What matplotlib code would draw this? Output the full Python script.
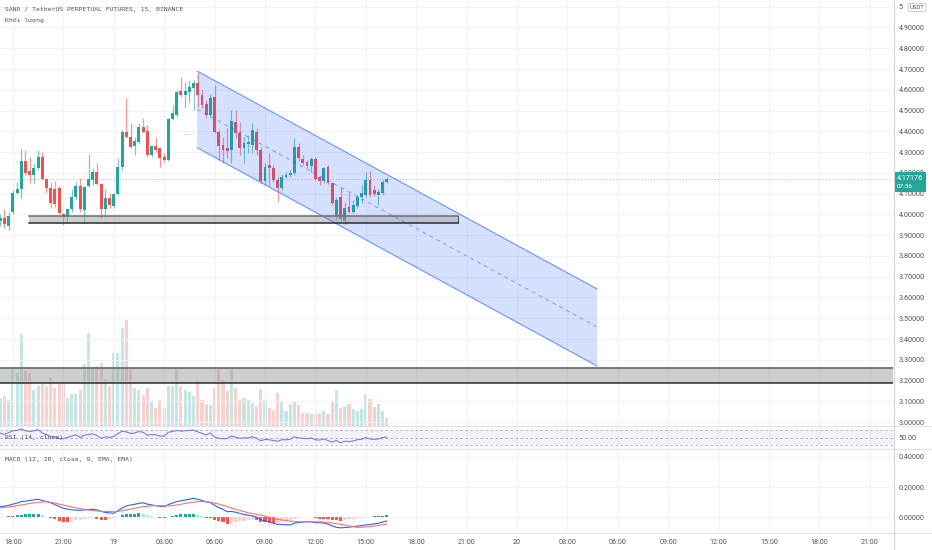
import numpy as np
import pandas as pd
import matplotlib
matplotlib.use('Agg')
import matplotlib.pyplot as plt
import matplotlib.dates as mdates
import matplotlib.transforms as mtrans
from matplotlib.patches import Rectangle, Polygon
from matplotlib.lines import Line2D

# ---------------- data ----------------
start_time = '2021-11-18 17:15'
opens = [3.968, 3.983, 3.944, 4.012, 4.103, 4.120, 4.257, 4.209, 4.190, 4.222,
         4.275, 4.169, 4.126, 4.122, 4.127, 4.002, 3.986, 4.026, 4.085, 4.137,
         4.021, 4.137, 4.166, 4.206, 4.145, 4.026, 4.078, 4.040, 4.097, 4.227,
         4.398, 4.374, 4.329, 4.350, 4.422, 4.402, 4.286, 4.329, 4.318, 4.278,
         4.262, 4.458, 4.479, 4.596, 4.575, 4.591, 4.607, 4.634, 4.575, 4.530,
         4.479, 4.564, 4.398, 4.334, 4.318, 4.310, 4.445, 4.393, 4.318, 4.339,
         4.334, 4.397, 4.310, 4.161, 4.238, 4.222, 4.166, 4.126, 4.182, 4.190,
         4.198, 4.326, 4.265, 4.252, 4.235, 4.269, 4.180, 4.161, 4.226, 4.151,
         3.992, 4.084, 3.968, 4.036, 4.013, 4.040, 4.084, 4.093, 4.166, 4.117,
         4.093, 4.103, 4.157]
highs = [4.002, 4.026, 4.012, 4.117, 4.156, 4.315, 4.310, 4.276, 4.247, 4.310,
         4.300, 4.175, 4.156, 4.161, 4.137, 4.008, 4.026, 4.122, 4.156, 4.175,
         4.137, 4.291, 4.223, 4.249, 4.151, 4.121, 4.102, 4.103, 4.270, 4.406,
         4.559, 4.439, 4.374, 4.440, 4.463, 4.430, 4.334, 4.374, 4.320, 4.296,
         4.464, 4.527, 4.599, 4.660, 4.639, 4.647, 4.647, 4.681, 4.599, 4.551,
         4.580, 4.623, 4.406, 4.374, 4.416, 4.503, 4.503, 4.445, 4.373, 4.382,
         4.440, 4.416, 4.325, 4.247, 4.296, 4.238, 4.180, 4.195, 4.204, 4.214,
         4.366, 4.344, 4.286, 4.262, 4.276, 4.278, 4.185, 4.230, 4.238, 4.156,
         4.085, 4.132, 4.060, 4.103, 4.069, 4.093, 4.142, 4.206, 4.210, 4.142,
         4.122, 4.166, 4.182]
lows = [3.944, 3.935, 3.925, 4.002, 4.098, 4.079, 4.190, 4.151, 4.151, 4.219,
        4.166, 4.103, 4.031, 4.036, 4.002, 3.949, 3.965, 4.012, 4.069, 4.013,
        3.959, 4.132, 4.142, 4.142, 3.983, 3.986, 4.029, 4.031, 4.093, 4.214,
        4.366, 4.318, 4.286, 4.344, 4.390, 4.278, 4.276, 4.302, 4.230, 4.252,
        4.257, 4.455, 4.469, 4.567, 4.512, 4.543, 4.503, 4.519, 4.512, 4.464,
        4.469, 4.392, 4.262, 4.247, 4.270, 4.246, 4.368, 4.286, 4.246, 4.296,
        4.296, 4.286, 4.151, 4.142, 4.137, 4.156, 4.061, 4.117, 4.175, 4.180,
        4.190, 4.257, 4.238, 4.223, 4.206, 4.166, 4.142, 4.151, 4.146, 4.045,
        3.973, 3.963, 3.954, 4.005, 4.007, 4.031, 4.055, 4.085, 4.085, 4.089,
        4.045, 4.093, 4.153]
closes = [3.983, 3.954, 3.992, 4.103, 4.120, 4.257, 4.201, 4.188, 4.223, 4.275,
          4.169, 4.126, 4.053, 4.050, 4.005, 3.986, 4.026, 4.085, 4.137, 4.025,
          4.132, 4.169, 4.206, 4.145, 4.026, 4.078, 4.045, 4.097, 4.227, 4.398,
          4.374, 4.326, 4.355, 4.422, 4.398, 4.286, 4.329, 4.310, 4.270, 4.262,
          4.458, 4.487, 4.591, 4.575, 4.594, 4.612, 4.634, 4.575, 4.527, 4.479,
          4.562, 4.398, 4.331, 4.310, 4.307, 4.450, 4.390, 4.321, 4.342, 4.350,
          4.406, 4.310, 4.161, 4.230, 4.222, 4.166, 4.126, 4.182, 4.190, 4.198,
          4.326, 4.270, 4.246, 4.235, 4.269, 4.172, 4.161, 4.222, 4.151, 4.055,
          4.069, 3.978, 4.033, 4.013, 4.045, 4.084, 4.101, 4.166, 4.093, 4.098,
          4.108, 4.157, 4.17176]
volumes = [283, 300, 257, 567, 533, 917, 550, 533, 357, 400,
           417, 400, 477, 377, 417, 450, 283, 317, 317, 357,
           617, 927, 583, 600, 633, 467, 400, 733, 733, 977,
           1060, 567, 377, 357, 310, 377, 243, 183, 260, 167,
           400, 400, 567, 400, 357, 343, 300, 457, 257, 217,
           210, 377, 567, 457, 350, 567, 383, 257, 283, 257,
           233, 200, 367, 260, 177, 157, 333, 243, 150, 217,
           250, 210, 133, 133, 123, 123, 133, 150, 117, 250,
           360, 177, 200, 217, 167, 150, 167, 323, 273, 190,
           217, 150, 83]
rsi = [62, 58, 63, 68, 69, 73, 68, 66, 68, 71,
       62, 58, 52, 52, 47, 47, 50, 54, 57, 50,
       56, 58, 60, 55, 48, 52, 50, 53, 60, 67,
       65, 61, 62, 66, 64, 56, 58, 57, 54, 53,
       64, 66, 69, 67, 68, 69, 70, 65, 61, 57,
       62, 51, 48, 47, 47, 54, 51, 48, 49, 49,
       52, 48, 41, 45, 44, 42, 40, 44, 44, 45,
       52, 49, 48, 47, 49, 44, 43, 46, 42, 38,
       42, 36, 40, 39, 41, 44, 45, 50, 46, 45,
       46, 50, 51]
macd = [.071, .075, .080, .088, .095, .104, .108, .112, .116, .120,
        .112, .105, .097, .085, .073, .061, .055, .050, .049, .047,
        .050, .053, .054, .050, .040, .034, .030, .028, .045, .062,
        .076, .082, .087, .093, .097, .088, .083, .078, .074, .071,
        .085, .095, .104, .110, .115, .120, .126, .120, .112, .104,
        .098, .080, .065, .054, .038, .040, .035, .027, .020, .015,
        .010, .002, -.015, -.022, -.027, -.038, -.045, -.046, -.048, -.049,
        -.038, -.033, -.030, -.028, -.028, -.034, -.035, -.036, -.044, -.055,
        -.065, -.068, -.066, -.064, -.060, -.057, -.053, -.049, -.046, -.042,
        -.038, -.030, -.023]
signal = [.064, .067, .070, .073, .078, .082, .087, .092, .096, .100,
          .102, .104, .100, .095, .088, .082, .076, .070, .064, .058,
          .054, .049, .046, .043, .041, .040, .039, .038, .040, .045,
          .050, .055, .061, .066, .071, .074, .077, .078, .078, .077,
          .076, .078, .082, .087, .092, .097, .101, .104, .105, .104,
          .100, .095, .088, .080, .072, .063, .055, .047, .039, .031,
          .025, .020, .016, .009, .002, -.005, -.012, -.016, -.020, -.024,
          -.027, -.028, -.028, -.028, -.028, -.028, -.028, -.030, -.033, -.037,
          -.041, -.045, -.050, -.055, -.060, -.065, -.064, -.062, -.060, -.056,
          -.052, -.048, -.043]
hist = [.004, .005, .008, .012, .016, .019, .021, .023, .025, .026,
        .014, .003, -.006, -.013, -.020, -.028, -.030, -.025, -.018, -.014,
        -.008, -.005, -.004, -.010, -.014, -.016, -.012, -.004, .006, .014,
        .020, .024, .026, .027, .024, .016, .010, .004, -.004, -.006,
        .004, .012, .018, .021, .022, .023, .024, .016, .007, -.002,
        -.004, -.015, -.024, -.030, -.040, -.034, -.028, -.024, -.020, -.017,
        -.015, -.018, -.030, -.032, -.033, -.034, -.033, -.030, -.026, -.022,
        -.011, -.005, .001, .002, .003, -.006, -.008, -.009, -.012, -.016,
        -.019, -.020, -.016, -.012, -.008, -.004, -.001, .004, .006, .008,
        .010, .012, .014]

last_price = 4.17176
countdown = '07:36'
price_ticks = [3.0, 3.1, 3.2, 3.3, 3.4, 3.5, 3.6, 3.7, 3.8, 3.9, 4.0,
               4.1, 4.2, 4.3, 4.4, 4.5, 4.6, 4.7, 4.8, 4.9, 5.0]
macd_ticks = [0.0, 0.2, 0.4]

channel_times = ['2021-11-19 04:58', '2021-11-20 04:46']
channel_upper = [4.690, 3.641]
channel_mid = [4.506, 3.458]
channel_lower = [4.321, 3.270]
zone1_times = ['2021-11-18 18:57', '2021-11-19 20:30']
zone1_prices = [3.959, 3.992]
zone2_prices = [3.187, 3.262]
dots_times = ['2021-11-19 04:07', '2021-11-19 04:39']
dots_price = 4.387

title_text = 'SAND / TetherUS PERPETUAL FUTURES, 15, BINANCE'
vol_text = 'Khối lượng'
rsi_text = 'RSI (14, close)'
macd_text = 'MACD (12, 26, close, 9, EMA, EMA)'

# ---------------- styling ----------------
TEAL = '#26a69a'
RED = '#ef5350'
GRID = '#f0f3fa'
SEP = '#e0e3eb'
TXT = '#50535e'
LBL_FONT = ['Roboto', 'DejaVu Sans']
MONO = ['DejaVu Sans Mono', 'DejaVu Sans']

W, H = 932, 550
PW = 893
fig = plt.figure(figsize=(W / 100, H / 100), dpi=100, facecolor='white')


def box(x0, y0, x1, y1):
    return [x0 / W, 1 - y1 / H, (x1 - x0) / W, (y1 - y0) / H]


ax_vol = fig.add_axes(box(0, 0, PW, 426))
ax = fig.add_axes(box(0, 0, PW, 426))
ax_rsi = fig.add_axes(box(0, 426, PW, 449))
ax_macd = fig.add_axes(box(0, 449, PW, 533))
ax_vol.set_zorder(0)
ax.set_zorder(1)
ax.patch.set_alpha(0)

o = np.array(opens); h = np.array(highs); l = np.array(lows); c = np.array(closes)
times = pd.date_range(start_time, periods=len(c), freq='15min')
x = mdates.date2num(times.to_pydatetime())
step = 15 / 1440.0
t0 = pd.Timestamp(start_time)
xl = (mdates.date2num((t0 - pd.Timedelta(minutes=1)).to_pydatetime()),
      mdates.date2num((t0 + pd.Timedelta(minutes=15 * 212.5)).to_pydatetime()))

up = c >= o
col = np.where(up, TEAL, RED)

# volume
ax_vol.bar(x, volumes, width=step * 0.75, color=col, alpha=0.27, linewidth=0)
ax_vol.set_ylim(0, 4260)
ax_vol.set_xlim(*xl)
ax_vol.axis('off')

# candles
ax.vlines(x, l, h, colors=col, lw=0.9, alpha=0.6, zorder=2)
ax.bar(x, np.maximum(np.abs(c - o), 0.004), bottom=np.minimum(o, c),
       width=step * 0.68, color=col, linewidth=0, zorder=3)

# channel
ct = mdates.date2num(pd.to_datetime(channel_times).to_pydatetime())
ax.add_patch(Polygon([(ct[0], channel_upper[0]), (ct[1], channel_upper[1]),
                      (ct[1], channel_lower[1]), (ct[0], channel_lower[0])],
                     closed=True, facecolor=(41 / 255, 98 / 255, 1.0, 0.19),
                     edgecolor='none', zorder=4))
ax.plot(ct, channel_upper, color='#2962ff', lw=0.8, alpha=0.65, zorder=5)
ax.plot(ct, channel_lower, color='#2962ff', lw=0.8, alpha=0.65, zorder=5)
ax.plot(ct, channel_mid, color='#2962ff', lw=0.7, alpha=0.55, ls=(0, (4, 4)), zorder=5)

dt = mdates.date2num(pd.to_datetime(dots_times).to_pydatetime())
ax.plot(dt, [dots_price] * 2, color='#5b8def', lw=0.7, alpha=0.5, ls=(0, (2, 2)), zorder=5)

# zone 1
zt = mdates.date2num(pd.to_datetime(zone1_times).to_pydatetime())
ax.add_patch(Rectangle((zt[0], zone1_prices[0]), zt[1] - zt[0],
                       zone1_prices[1] - zone1_prices[0],
                       facecolor='#9e9e9e', alpha=0.5, edgecolor='none', zorder=4))
ax.plot(zt, [zone1_prices[1]] * 2, color='#6f6f6f', lw=1.1, zorder=5)
ax.plot(zt, [zone1_prices[0]] * 2, color='#2e2e2e', lw=1.1, zorder=5)
ax.plot([zt[1], zt[1]], zone1_prices, color='#2e2e2e', lw=0.6, zorder=5)

# zone 2 (full width)
ax.axhspan(zone2_prices[0], zone2_prices[1], facecolor='#9e9e9e', alpha=0.5,
           edgecolor='none', zorder=4)
ax.axhline(zone2_prices[1], color='#6f6f6f', lw=1.3, zorder=5)
ax.axhline(zone2_prices[0], color='#2e2e2e', lw=1.1, zorder=5)

# last price line
ax.axhline(last_price, color=TEAL, lw=0.7, alpha=0.55, ls=(0, (1, 2)), zorder=5)

ax.set_xlim(*xl)
ax.set_ylim(2.9812, 5.0323)
ax.set_yticks(price_ticks)
ax.set_yticklabels(['%g' % v if v == int(v) and v == max(price_ticks) else '%.5f' % v
                    for v in price_ticks])
ax.yaxis.tick_right()

# RSI
ax_rsi.axhspan(30, 70, facecolor='#7e57c2', alpha=0.08, edgecolor='none')
for lv in (70, 50, 30):
    ax_rsi.axhline(lv, color='#9598a1', lw=0.6, ls=(0, (3, 3)), alpha=0.8)
ax_rsi.plot(x, rsi, color='#7b7fd6', lw=0.8)
ax_rsi.set_xlim(*xl)
ax_rsi.set_ylim(19.3, 80.7)
ax_rsi.set_yticks([50])
ax_rsi.set_yticklabels(['50.00'])
ax_rsi.yaxis.tick_right()

# MACD
hcol = []
for i, v in enumerate(hist):
    prev = hist[i - 1] if i > 0 else v
    if v >= 0:
        hcol.append('#26a69a' if v > prev else '#b2dfdb')
    else:
        hcol.append('#ff5252' if v < prev else '#ffcdd2')
ax_macd.bar(x, hist, width=step * 0.75, color=hcol, linewidth=0, zorder=2)
ax_macd.plot(x, macd, color='#2962ff', lw=0.8, zorder=3)
ax_macd.plot(x, signal, color='#f5776b', lw=0.8, zorder=3)
ax_macd.set_xlim(*xl)
ax_macd.set_ylim(-0.102, 0.4507)
ax_macd.set_yticks(macd_ticks)
ax_macd.set_yticklabels(['%.5f' % v for v in macd_ticks])
ax_macd.yaxis.tick_right()

# time ticks
tick_times = pd.date_range('2021-11-18 18:00', '2021-11-20 21:00', freq='3h')
tick_labels = [str(t.day) if t.hour == 0 else t.strftime('%H:%M') for t in tick_times]
tx = mdates.date2num(tick_times.to_pydatetime())

for a in (ax, ax_rsi, ax_macd):
    a.set_xticks(tx)
    a.grid(True, axis='x', color=GRID, lw=0.8)
    a.set_axisbelow(True)
    for s in a.spines.values():
        s.set_visible(False)
    a.tick_params(axis='y', length=0, pad=4, labelsize=5.2, labelcolor=TXT)
    for lab in a.get_yticklabels():
        lab.set_fontfamily(LBL_FONT)
ax.grid(True, axis='y', color=GRID, lw=0.8)
ax_macd.grid(True, axis='y', color=GRID, lw=0.8)
ax.tick_params(axis='x', length=0, labelbottom=False)
ax_rsi.tick_params(axis='x', length=0, labelbottom=False)
ax_macd.set_xticklabels(tick_labels)
ax_macd.tick_params(axis='x', length=0, pad=4, labelsize=5.2, labelcolor=TXT)
for lab in ax_macd.get_xticklabels():
    lab.set_fontfamily(LBL_FONT)

# separators
for yy in (426, 449, 533):
    fig.add_artist(Line2D([0, 1], [1 - yy / H] * 2, color=SEP, lw=0.8,
                          transform=fig.transFigure))
fig.add_artist(Line2D([(PW + 0.5) / W] * 2, [0, 1], color='#d1d4dc', lw=0.8,
                      transform=fig.transFigure))

# last price badge (centred on the price line, countdown below)
btr = mtrans.blended_transform_factory(fig.transFigure, ax.transData)
ax.add_patch(Rectangle(((PW + 1) / W, last_price - 0.062), 32 / W, 0.095,
                       transform=btr, facecolor=TEAL, edgecolor='none',
                       clip_on=False, zorder=10))
ax.text((PW + 4) / W, last_price + 0.001, '%.5f' % last_price, transform=btr,
        color='white', fontsize=5.2, va='center', ha='left', family=LBL_FONT,
        clip_on=False, zorder=11)
ax.text((PW + 4) / W, last_price - 0.038, countdown, transform=btr,
        color='white', fontsize=4.6, va='center', ha='left', family=LBL_FONT,
        clip_on=False, zorder=11)

# USDT badge
fig.text(917 / W, 1 - 7.5 / H, 'USDT', fontsize=4.3, color=TXT, ha='center',
         va='center', family=LBL_FONT,
         bbox=dict(boxstyle='round,pad=0.25', facecolor='white',
                   edgecolor='#b2b5be', lw=0.5))

# legends
fig.text(5 / W, 1 - 10 / H, title_text, fontsize=4.6, family=MONO, color=TXT, va='center')
fig.text(5 / W, 1 - 20 / H, vol_text, fontsize=4.6, family=MONO, color=TXT, va='center')
fig.text(5 / W, 1 - 437 / H, rsi_text, fontsize=4.6, family=MONO, color=TXT, va='center')
fig.text(5 / W, 1 - 459 / H, macd_text, fontsize=4.6, family=MONO, color=TXT, va='center')

fig.savefig('out.png', dpi=100, facecolor='white')
